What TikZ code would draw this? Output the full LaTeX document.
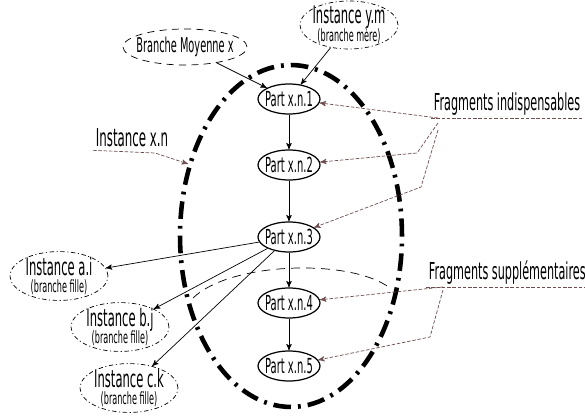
\documentclass[tikz,border=0pt]{standalone}
\usepackage{fontspec}
\setmainfont{DejaVu Sans}[FakeStretch=0.48]
\usetikzlibrary{shapes}
\usetikzlibrary{arrows,positioning}
\definecolor{noteline}{RGB}{110,78,78}

\begin{document}
\begin{tikzpicture}[
    x=0.02cm, y=-0.02cm,
    part/.style={draw, ellipse, line width=0.7pt, inner xsep=-2pt,
    inner ysep=0pt, minimum width=1.24cm, minimum height=0.6cm,
    font=\fontsize{11.8}{13}\selectfont},
    branch/.style={draw, ellipse, thin, dash pattern=on 2.5pt off 1.5pt on 0.6pt off 1.5pt,
    inner xsep=-4pt, inner ysep=-1pt, minimum width=1.96cm,
    minimum height=0.88cm, align=center, font=\fontsize{13.7}{11}\selectfont},
    middle/.style={draw, ellipse, thin, dash pattern=on 4pt off 3pt,
    inner xsep=-4.3pt, inner ysep=0pt, minimum width=2.48cm,
    minimum height=0.72cm, font=\fontsize{11.6}{13}\selectfont},
    region/.style={draw, ellipse, line width=2.6pt,
    dash pattern=on 10pt off 4pt on 1.6pt off 4pt},
    link/.style={thin, ->, >=stealth'},
    note/.style={thin, ->, >=stealth', color=noteline, dash pattern=on 2pt off 1pt},
    label/.style={inner sep=1.5pt}
    ]

\useasboundingbox (0,0) rectangle (585,418);

\newcommand{\subline}[1]{{\fontsize{9.6}{10}\selectfont #1}}

% instance x.n
\node[region, minimum width=4.44cm, minimum height=6.84cm] (instance) at (291,236) {};

% parts
\node[part] (p1) at (289,99) {Part x.n.1};
\node[part] (p2) at (289,165) {Part x.n.2};
\node[part] (p3) at (289,237) {Part x.n.3};
\node[part] (p4) at (289,303) {Part x.n.4};
\node[part] (p5) at (289,366) {Part x.n.5};

\draw[link] (p1) -- (p2);
\draw[link] (p2) -- (p3);
\draw[link] (p3) -- (p4);
\draw[link] (p4) -- (p5);

% other branches
\node[middle] (moyenne) at (185,47) {Branche Moyenne x};
\node[branch, minimum width=1.96cm, minimum height=0.96cm] (ym) at (349,25)
	{Instance y.m\\[-1pt]\subline{(branche mère)}};
\node[branch] (ai) at (59,276) {Instance a.i\\[-1pt]\subline{(branche fille)}};
\node[branch] (bj) at (120,327) {Instance b.j\\[-1pt]\subline{(branche fille)}};
\node[branch] (ck) at (129,388) {Instance c.k\\[-1pt]\subline{(branche fille)}};

\draw[link] (moyenne) -- (p1);
\draw[link] (ym) -- (p1);
\draw[link] (p3) -- (ai);
\draw[link] (p3) -- (bj);
\draw[link] (p3) -- (ck);

% limit of the indispensable fragments
\draw[thin, dash pattern=on 5pt off 3.5pt] (193,298) .. controls (230,262) and
(350,258) .. (390,288);

% labels
\node[label, anchor=base west, font=\fontsize{14}{15}\selectfont] (xnlabel)
	at (93,147) {Instance x.n};
\node[label, anchor=base west, font=\fontsize{13.3}{15}\selectfont] (fragind)
	at (431,111) {Fragments indispensables};
\node[label, anchor=base west, font=\fontsize{13.3}{15}\selectfont] (fragsup)
	at (426,280) {Fragments supplémentaires};

\coordinate (xnbend) at (155,153);
\coordinate (fi1) at (438,118);
\coordinate (fi2) at (438,123);
\coordinate (fi2b) at (417,153);
\coordinate (fi3) at (438,130);
\coordinate (fi3b) at (421,187);
\coordinate (fs1) at (443,287);
\coordinate (fs2) at (443,290);
\coordinate (fs2b) at (430,337);

\draw[note] (xnlabel.south west) -- (xnbend) -- (instance.145);
\draw[note, -] (fragind.south west) -- (fragind.south east);
\draw[note, -] (fragsup.south west) -- (fragsup.south east);
\draw[note] (fi1) -- (p1);
\draw[note] (fi2) -- (fi2b) -- (p2);
\draw[note] (fi3) -- (fi3b) -- (p3);
\draw[note] (fs1) -- (p4);
\draw[note] (fs2) -- (fs2b) -- (p5);

\end{tikzpicture}
\end{document}
